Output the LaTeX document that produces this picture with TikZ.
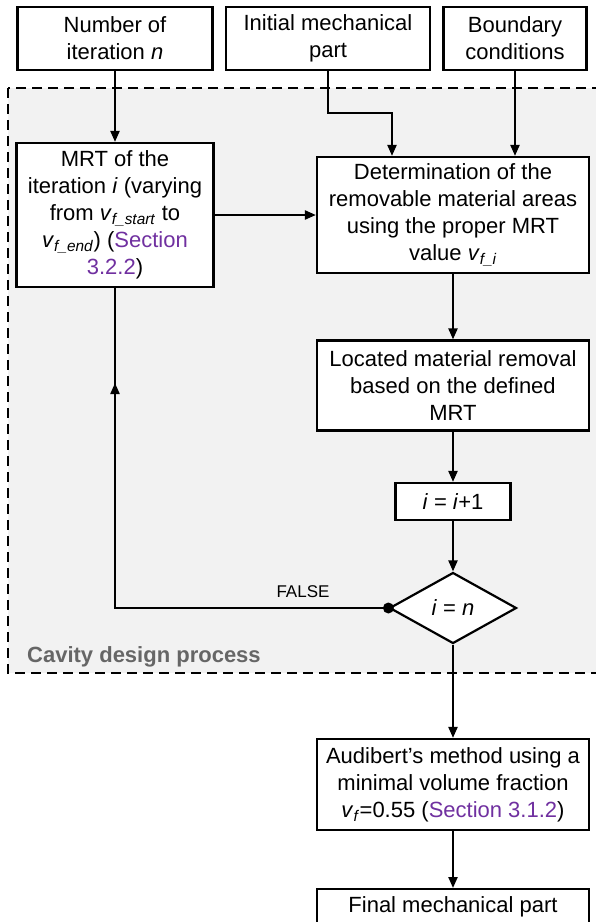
\documentclass[tikz,border=0pt]{standalone}
\usepackage{fontspec}
\setmainfont{Liberation Sans}
\usetikzlibrary{arrows.meta,shapes.geometric}
\definecolor{secpurple}{HTML}{7030A0}
\definecolor{regiongray}{HTML}{F2F2F2}
\definecolor{labelgray}{HTML}{666666}
\newcommand{\sect}[1]{\textcolor{secpurple}{#1}}
\newcommand{\vsub}[1]{\textit{v}\textsubscript{\textit{#1}}}
\begin{document}
\begin{tikzpicture}[x=1pt,y=-1pt,
  box/.style={draw, line width=2.2pt, fill=white, align=center, inner sep=0pt,
    font=\fontsize{22}{27}\selectfont},
  decision/.style={diamond, draw, line width=2.2pt, fill=white, inner sep=0pt,
    font=\fontsize{22}{27}\selectfont},
  arr/.style={line width=2.2pt, -{Triangle[length=11pt,width=9pt]}},
  plainline/.style={line width=2.2pt},
  region/.style={line width=2pt, dash pattern=on 10pt off 6pt, fill=regiongray}]
\useasboundingbox (0,0) rectangle (596,922);
\fill[white] (0,0) rectangle (596,922);
\draw[region] (8,88) rectangle (640,673);

\node[box, minimum width=195, minimum height=63] (niter) at (115,38.5) {Number of\\iteration \textit{n}};
\node[box, minimum width=204, minimum height=63] (init) at (328,38.5) {Initial mechanical\\part};
\node[box, minimum width=143, minimum height=63] (bc) at (515,38.5) {Boundary\\conditions};

\node[box, minimum width=197, minimum height=144] (mrt) at (115,215)
  {MRT of the\\iteration \textit{i} (varying\\from \vsub{f\_start} to\\\vsub{f\_end}) (\sect{Section}\\\sect{3.2.2})};
\node[box, minimum width=272, minimum height=116] (det) at (453,215)
  {Determination of the\\removable material areas\\using the proper MRT\\value \vsub{f\_i}};
\node[box, minimum width=272, minimum height=90] (loc) at (453,385.5)
  {Located material removal\\based on the defined\\MRT};
\node[box, minimum width=115, minimum height=37] (inc) at (453,501.5) {\textit{i} = \textit{i}+1};
\node[decision, minimum width=127, minimum height=71] (dec) at (453,608) {\textit{i} = \textit{n}};
\node[box, minimum width=272, minimum height=91] (aud) at (453,784.5)
  {Audibert’s method using a\\minimal volume fraction\\\vsub{f}=0.55 (\sect{Section 3.1.2})};
\node[box, anchor=north, minimum width=272, minimum height=36] (final) at (453,888) {Final mechanical part};

\node[font=\fontsize{17}{17}\selectfont, inner sep=0pt] (falselbl) at (303,592) {FALSE};
\node[anchor=base west, inner sep=0pt, text=labelgray, font=\bfseries\fontsize{22}{22}\selectfont] (cavlbl) at (27,662) {Cavity design process};

\coordinate (initbend) at (392,113);
\coordinate (fbtail) at (115,404);
\coordinate (fbtip) at (115,383);

\draw[arr] (niter.south) -- (niter.south |- mrt.north);
\draw[arr] (init.south) |- (initbend) -- (initbend |- det.north);
\draw[arr] (bc.south) -- (bc.south |- det.north);
\draw[arr] (mrt.east) -- (det.west);
\draw[arr] (det.south) -- (loc.north);
\draw[arr] (loc.south) -- (inc.north);
\draw[arr] (inc.south) -- (dec.north);
\draw[plainline] (dec.west) -| (mrt.south);
\draw[arr] (fbtail) -- (fbtip);
\fill (dec.west) circle (5.5pt);
\draw[arr] (dec.south) -- (aud.north);
\draw[arr] (aud.south) -- (final.north);
\end{tikzpicture}
\end{document}
